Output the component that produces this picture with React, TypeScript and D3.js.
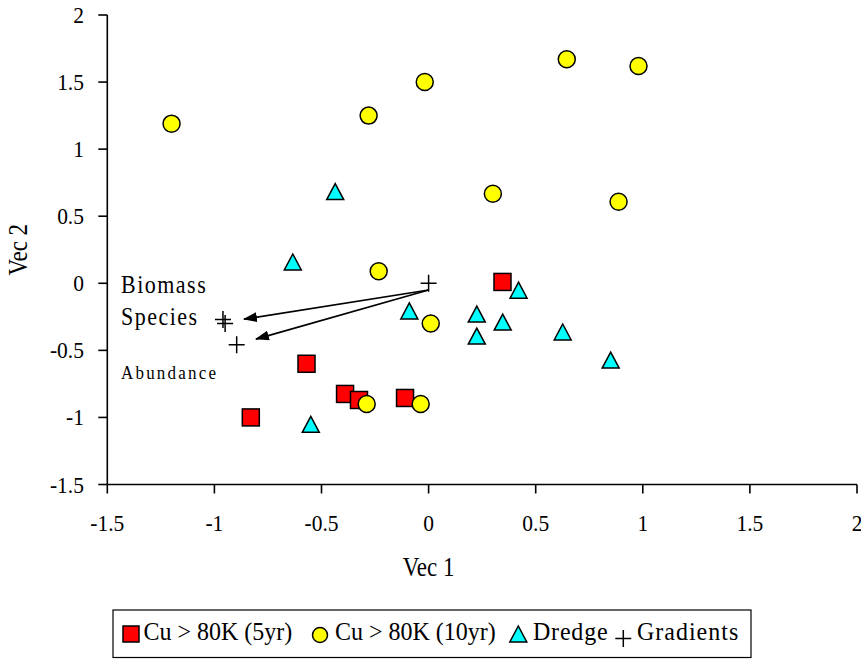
import React from 'react';
import * as d3 from 'd3';

// values
const tickValues = [-1.5, -1, -0.5, 0, 0.5, 1, 1.5, 2];
const tickLabels = ['-1.5', '-1', '-0.5', '0', '0.5', '1', '1.5', '2'];

const cu5yr = [
  [0.345, 0.01], [-0.57, -0.6], [-0.39, -0.825], [-0.325, -0.87], [-0.11, -0.855], [-0.83, -1.0],
];
const cu10yr = [
  [-1.2, 1.19], [-0.28, 1.25], [-0.018, 1.5], [0.645, 1.67], [0.98, 1.62], [0.3, 0.668],
  [0.887, 0.608], [-0.233, 0.09], [0.01, -0.3], [-0.289, -0.9], [-0.037, -0.9],
];
const dredge = [
  [-0.436, 0.68], [-0.634, 0.155], [-0.09, -0.21], [-0.55, -1.055], [0.42, -0.055],
  [0.225, -0.233], [0.346, -0.293], [0.225, -0.397], [0.626, -0.367], [0.85, -0.576],
];
const gradients = [
  [0, 0], [-0.96, -0.27], [-0.95, -0.3], [-0.896, -0.459],
];
// arrows from the origin towards the gradient labels
const arrowStart = [0, -0.05];
const arrowEnds = [[-0.862, -0.267], [-0.806, -0.416]];
const gradientLabels = ['Biomass', 'Species', 'Abundance'];

const legendItems = ['Cu > 80K (5yr)', 'Cu > 80K (10yr)', 'Dredge', 'Gradients'];

const W = 861, H = 659;
const font = '"Liberation Serif", "Times New Roman", serif';

// text drawn a little taller than wide, like the original export
function T({ x, y, size, sy = 1.1, anchor = 'start', spacing = 0, rotate = 0, children }) {
  return (
    <text transform={`translate(${x},${y}) rotate(${rotate}) scale(1,${sy})`} fontSize={size}
      textAnchor={anchor} letterSpacing={spacing}>{children}</text>
  );
}

export default function App() {
  const x = d3.scaleLinear().domain([-1.5, 2]).range([107.3, 857]);
  const y = d3.scaleLinear().domain([-1.5, 2]).range([484.5, 15]);
  const x0 = x(-1.5), y0 = y(-1.5);

  const sq = 17, r = 8.5;
  const tri = (cx, cy) => `M${cx},${cy - 8.5}L${cx + 8.5},${cy + 7.5}L${cx - 8.5},${cy + 7.5}Z`;
  const cross = (cx, cy) => `M${cx - 8},${cy}H${cx + 8}M${cx},${cy - 8.5}V${cy + 8.5}`;

  return (
    <svg width={W} height={H} style={{ position: 'absolute', left: 0, top: 0, background: '#fff' }}
      fontFamily={font}>
      <defs>
        <marker id="arr" viewBox="0 0 14 10" refX="13" refY="5" markerWidth="14" markerHeight="10"
          markerUnits="userSpaceOnUse" orient="auto">
          <path d="M0,0L14,5L0,10Z" fill="#000" />
        </marker>
      </defs>

      {/* axes */}
      <line x1={x0} x2={x(2)} y1={y0} y2={y0} stroke="#000" strokeWidth={1.6} />
      <line x1={x0} x2={x0} y1={y(2)} y2={y0} stroke="#000" strokeWidth={1.6} />
      {tickValues.map((t, i) => (
        <g key={'x' + i}>
          <line x1={x(t)} x2={x(t)} y1={y0} y2={y0 + 9} stroke="#000" strokeWidth={1.6} />
          <T x={x(t)} y={531} size={21.5} anchor="middle">{tickLabels[i]}</T>
        </g>
      ))}
      {tickValues.map((t, i) => (
        <g key={'y' + i}>
          <line x1={x0 - 9} x2={x0} y1={y(t)} y2={y(t)} stroke="#000" strokeWidth={1.6} />
          <T x={84} y={y(t) + 8} size={21.5} anchor="end">{tickLabels[i]}</T>
        </g>
      ))}
      <T x={x(0)} y={576} size={23} sy={1.15} anchor="middle">Vec 1</T>
      <T x={27} y={y(0.25)} size={23} sy={1.15} anchor="middle" rotate={-90}>Vec 2</T>

      {/* gradient arrows and labels */}
      {arrowEnds.map((e, i) => (
        <line key={'a' + i} x1={x(arrowStart[0])} y1={y(arrowStart[1])} x2={x(e[0])} y2={y(e[1])}
          stroke="#000" strokeWidth={1.7} markerEnd="url(#arr)" />
      ))}
      <T x={121} y={293} size={22} spacing={1.5}>{gradientLabels[0]}</T>
      <T x={121} y={325} size={22} spacing={1.5}>{gradientLabels[1]}</T>
      <T x={121} y={379} size={17} spacing={2.2}>{gradientLabels[2]}</T>

      {/* series */}
      {cu5yr.map((d, i) => (
        <rect key={'s' + i} x={x(d[0]) - sq / 2} y={y(d[1]) - sq / 2} width={sq} height={sq}
          fill="#ff0000" stroke="#000" strokeWidth={1.5} />
      ))}
      {cu10yr.map((d, i) => (
        <circle key={'c' + i} cx={x(d[0])} cy={y(d[1])} r={r} fill="#ffff00" stroke="#000" strokeWidth={1.5} />
      ))}
      {dredge.map((d, i) => (
        <path key={'t' + i} d={tri(x(d[0]), y(d[1]))} fill="#00ffff" stroke="#000" strokeWidth={1.5} />
      ))}
      {gradients.map((d, i) => (
        <path key={'g' + i} d={cross(x(d[0]), y(d[1]))} stroke="#000" strokeWidth={1.5} fill="none" />
      ))}

      {/* legend */}
      <rect x={113} y={610} width={638} height={47.5} fill="#fff" stroke="#000" strokeWidth={1.2} />
      <rect x={123} y={626} width={16} height={16} fill="#ff0000" stroke="#000" strokeWidth={1.5} />
      <T x={143.5} y={639.5} size={24} sy={1.05}>{legendItems[0]}</T>
      <circle cx={320} cy={635} r={7.5} fill="#ffff00" stroke="#000" strokeWidth={1.5} />
      <T x={335} y={639.5} size={24} sy={1.05}>{legendItems[1]}</T>
      <path d={tri(518.3, 634.5)} fill="#00ffff" stroke="#000" strokeWidth={1.5} />
      <T x={533} y={639.5} size={24} sy={1.05} spacing={0.8}>{legendItems[2]}</T>
      <path d={cross(623.3, 638.5)} stroke="#000" strokeWidth={1.5} fill="none" />
      <T x={637} y={639.5} size={24} sy={1.05} spacing={1}>{legendItems[3]}</T>
    </svg>
  );
}
